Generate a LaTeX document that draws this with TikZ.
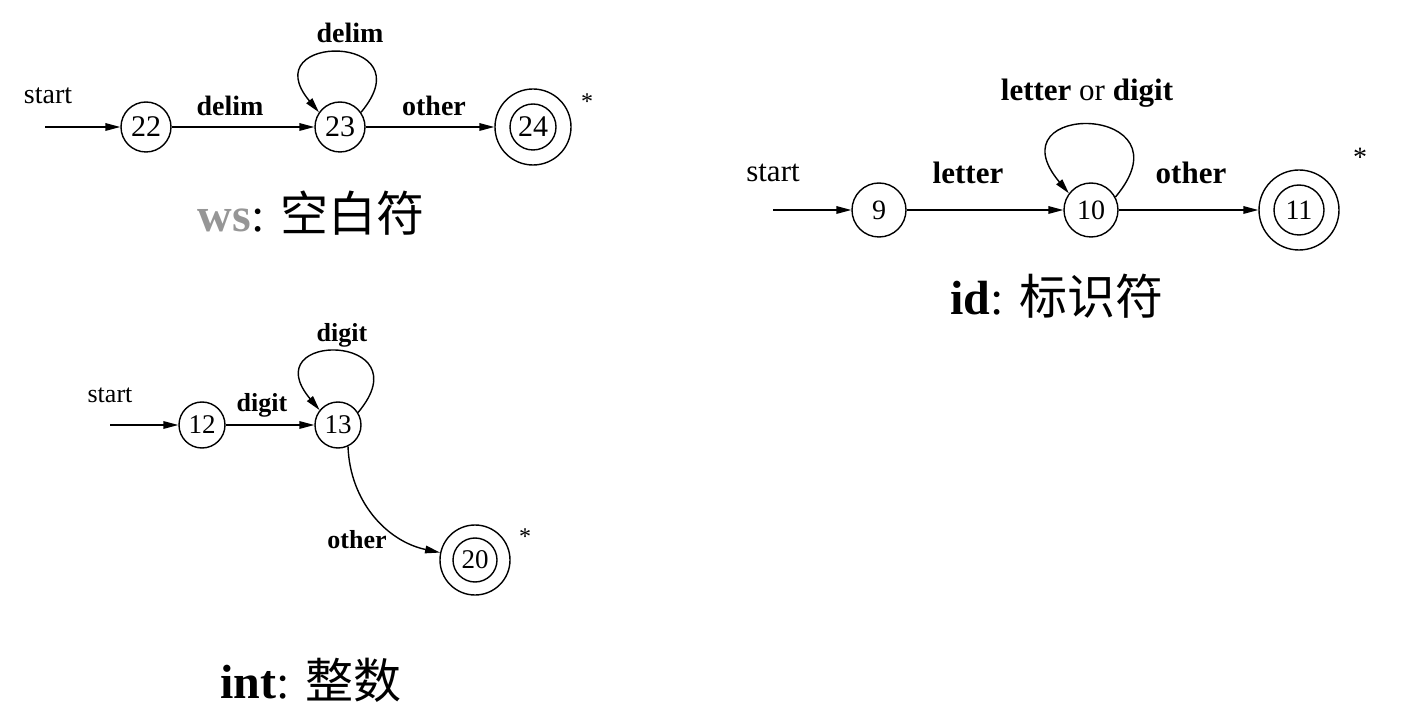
\documentclass[tikz,border=0pt]{standalone}
\usepackage{fontspec}
\setmainfont{Liberation Serif}
\newfontfamily\cjk{Noto Sans CJK SC}
\usetikzlibrary{arrows.meta}
\definecolor{wsgray}{RGB}{150,150,150}
\newcommand\sz[1]{\fontsize{#1}{#1}\selectfont}

\begin{document}
\begin{tikzpicture}[x=0.5pt,y=0.5pt,
    state/.style={circle,draw,line width=0.7pt,inner sep=0pt,minimum size=#1},
    final/.style={circle,draw,line width=0.7pt,inner sep=0pt,minimum size=#1},
    arr/.style={-{Triangle[length=7.5pt,width=3.8pt]},line width=0.7pt},
    txt/.style={font=\sz{#1}},
    lbl/.style={font=\bfseries\sz{#1}},
    title/.style={font=\sz{24}}]
  \useasboundingbox (0,0) rectangle (1409,724);
  % ws
  \node[txt=14] (ws-start) at (48,628) {start};
  \coordinate (ws-in) at (45,597);
  \foreach \n/\p in {22/{(146,597)},23/{(340,597)}} {\node[state=25pt,font=\sz{15}] (n\n) at \p {\n};}
  \node[final=38pt] (n24) at (533,597) {};
  \node[state=23pt,font=\sz{15}] (n24i) at (n24) {24};
  \draw[arr] (ws-in) -- (n22);
  \draw[arr] (n22) -- (n23);
  \draw[arr] (n23) -- (n24);
  \draw[arr] (n23.35) to[out=50,in=130,distance=52pt] (n23.145);
  \node[lbl=14] (ws-l1) at (230,618) {delim};
  \node[lbl=14] (ws-l2) at (350,691) {delim};
  \node[lbl=14] (ws-l3) at (434,618) {other};
  \node[txt=12] (ws-star) at (587,622) {*};
  \node[title] (ws-title) at (311,511) {\textcolor{wsgray}{\bfseries ws}: {\cjk 空白符}};
  % id
  \node[txt=15.5] (id-start) at (773,551) {start};
  \coordinate (id-in) at (773,514);
  \foreach \n/\p in {9/{(879,514)},10/{(1091,514)}} {\node[state=27pt,font=\sz{14}] (n\n) at \p {\n};}
  \node[final=40pt] (n11) at (1299,514) {};
  \node[state=25pt,font=\sz{14}] (n11i) at (n11) {11};
  \draw[arr] (id-in) -- (n9);
  \draw[arr] (n9) -- (n10);
  \draw[arr] (n10) -- (n11);
  \draw[arr] (n10.28) to[out=50,in=130,distance=61pt] (n10.143);
  \node[lbl=15.5] (id-l1) at (968,551) {letter};
  \node[lbl=15.5] (id-l2) at (1087,631) {letter {\mdseries or} digit};
  \node[lbl=15.5] (id-l3) at (1191,551) {other};
  \node[txt=14] (id-star) at (1360,567) {*};
  \node[title] (id-title) at (1057,428) {{\bfseries id}: {\cjk 标识符}};
  % int
  \node[txt=13] (int-start) at (110,329) {start};
  \coordinate (int-in) at (110,299);
  \foreach \n/\p in {12/{(202,299)},13/{(338,299)}} {\node[state=23pt,font=\sz{13.5}] (n\n) at \p {\n};}
  \node[final=35pt] (n20) at (475,164) {};
  \node[state=22pt,font=\sz{13.5}] (n20i) at (n20) {20};
  \draw[arr] (int-in) -- (n12);
  \draw[arr] (n12) -- (n13);
  \draw[arr] (n13.32) to[out=50,in=130,distance=52pt] (n13.141);
  \draw[arr] (n13.-65) to[out=-88,in=168] (n20);
  \node[lbl=13] (int-l1) at (262,319) {digit};
  \node[lbl=13] (int-l2) at (342,389) {digit};
  \node[lbl=13] (int-l3) at (357,184) {other};
  \node[txt=12] (int-star) at (525,187) {*};
  \node[title] (int-title) at (311,44) {{\bfseries int}: {\cjk 整数}};
\end{tikzpicture}
\end{document}
